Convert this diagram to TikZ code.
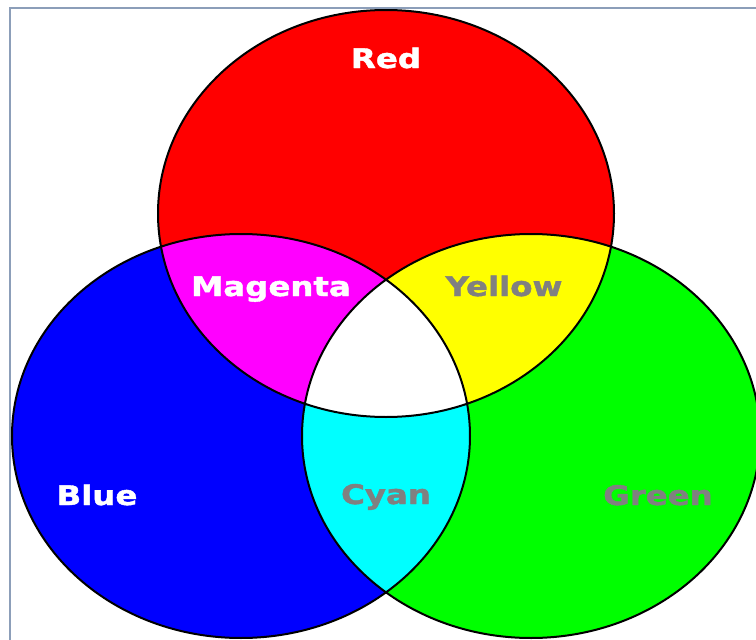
\documentclass[tikz,border=0pt]{standalone}
\usepackage{fontspec}
\newfontfamily\vennfont{DejaVu Sans}[FakeStretch=1.2,FakeBold=1.5]
\definecolor{framecol}{RGB}{140,158,185}
\definecolor{vred}{RGB}{255,0,0}
\definecolor{vgreen}{RGB}{0,255,0}
\definecolor{vblue}{RGB}{0,0,255}
\definecolor{vmagenta}{RGB}{255,0,255}
\definecolor{vyellow}{RGB}{255,255,0}
\definecolor{vcyan}{RGB}{0,255,255}
\definecolor{vgray}{RGB}{128,128,128}

\begin{document}
\begin{tikzpicture}[x=1pt,y=-1pt,
        lbl/.style={font=\vennfont\bfseries\fontsize{27}{32}\selectfont,anchor=base,inner sep=0pt},
        light/.style={lbl,text=white},
        dark/.style={lbl,text=vgray}]
        \useasboundingbox (0,0) rectangle (756,640);
        \def\redset{(386,213.5) ellipse [x radius=228pt,y radius=203.5pt]}
        \def\blueset{(241,436) ellipse [x radius=229pt,y radius=202pt]}
        \def\greenset{(531,436) ellipse [x radius=229pt,y radius=202pt]}
        \draw [framecol,line width=1.5pt] (10,640) -- (10,8) -- (756,8);
        \fill [vred] \redset;
        \fill [vblue] \blueset;
        \fill [vgreen] \greenset;
        \begin{scope}
            \clip \redset;
            \fill [vmagenta] \blueset;
            \fill [vyellow] \greenset;
        \end{scope}
        \begin{scope}
            \clip \blueset;
            \fill [vcyan] \greenset;
        \end{scope}
        \begin{scope}
            \clip \redset;
            \clip \blueset;
            \fill [white] \greenset;
        \end{scope}
        \draw [line width=2pt] \redset \blueset \greenset;
        \node [light] (redlbl) at (386,68) {Red};
        \node [light] (magentalbl) at (271,296) {Magenta};
        \node [dark] (yellowlbl) at (504,296) {Yellow};
        \node [light] (bluelbl) at (97,505) {Blue};
        \node [dark] (cyanlbl) at (386,504) {Cyan};
        \node [dark] (greenlbl) at (658,505) {Green};
\end{tikzpicture}
\end{document}
